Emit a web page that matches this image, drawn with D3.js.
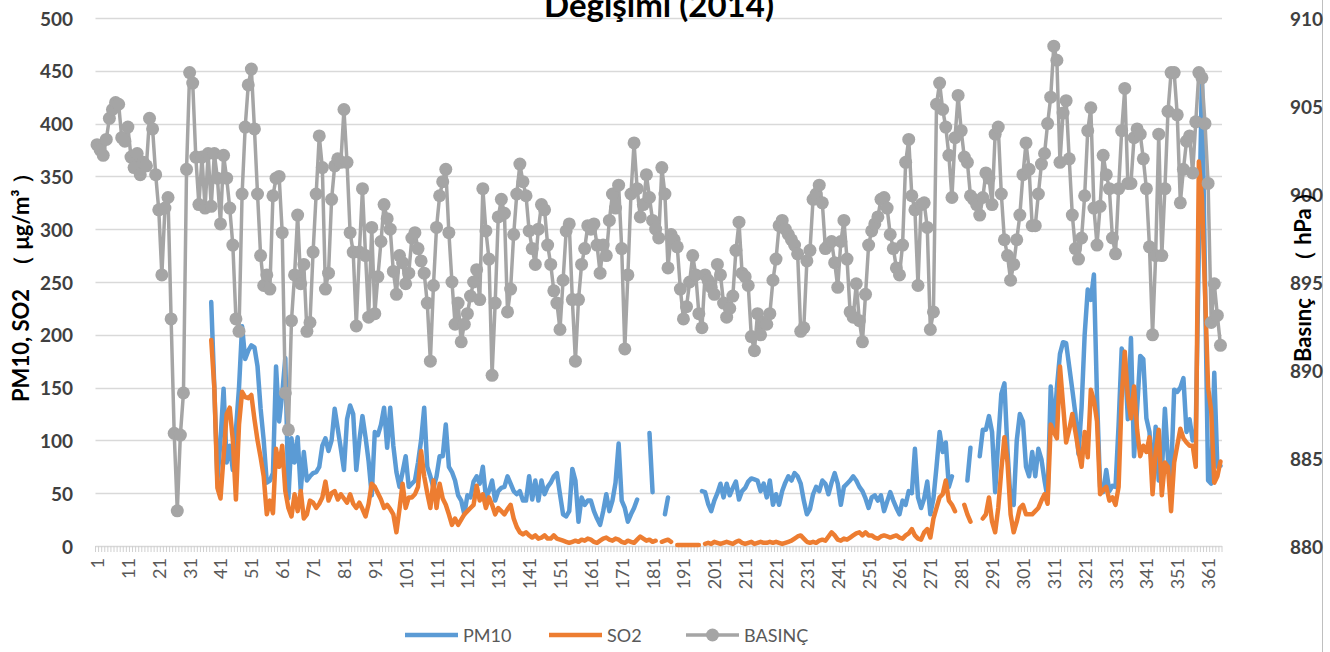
<!DOCTYPE html>
<html>
<head>
<meta charset="utf-8">
<script src="https://cdn.jsdelivr.net/npm/d3@7"></script>
<style>
  body { margin: 0; background: #ffffff; }
  svg { display: block; }
</style>
</head>
<body>
<svg id="chart" width="1330" height="652"></svg>
<script>
// Daily values for 2014 (day of year 1..365)
const days = d3.range(1, 366);

// PM10 (µg/m³), no measurements before day 38 and on a few outage days
const pm10 = [
  ...Array(37).fill(null),
  231, 150, 62, 100, 149, 79, 95, 72, 110, 150, 208, 177, 185, 190, 188, 170, 130, 100, 60, 62,
  69, 170, 118, 144, 178, 45,
  102, 79, 103, 52, 89, 62, 66, 69, 70, 75, 95, 102, 90, 100, 130, 111, 92, 72, 120, 133,
  125, 72, 100, 123, 103, 80, 48, 108, 105, 115, 131,
  93, 131, 95, 70, 56, 70, 85, 56, 59, 62, 79, 100, 131, 75, 66, 55, 66, 85, 85, 115,
  75, 70, 62, 48, 43, 30, 48, 46, 61, 66, 59,
  75, 46, 52, 62, 43, 52, 55, 56, 66, 59, 52, 49, 52, 43, 43, 66, 44, 62, 43, 62,
  49, 56, 60, 66, 69, 49, 30, 28, 33, 73, 62,
  23, 46, 39, 43, 43, 33, 26, 20, 33, 49, 33, 43, 60, 97, 43, 36, 23, 30, 36, 44,
  null, null, null, 107, 51, null, null, null, 30, 46,
  null, null, null, null, null, null, null, null, null, null,
  52, 51, 40, 33, 43, 50, 59, 46, 59, 48, 55, 61, 44, 52, 55, 61, 64, 63, 62, 52,
  59, 46, 62, 39, 49, 39, 52, 60, 66, 62, 69, 66, 59, 43, 30, 35, 49, 56, 52, 62,
  59, 49, 60, 69, 59, 39, 56, 59, 62, 66, 62, 56, 52,
  45, 36, 46, 48, 43, 48, 33, 42, 51, 43, 36, 30, 43, 39, 52, 50, 92, 46, 36, 45,
  61, 30, 45, 75, 108, 89, 98, 56, 66,
  null, null, null, null, 62, 93, null, null,
  85, 110, 110, 123, 108, 51, 100, 144, 154, 90, 43, 39, 100, 125, 118, 75, 66, 89, 66, 92,
  82, 62, 45, 151, 108, 150, 182, 193, 192, 170, 148, 125, 87, 131, 200, 243, 233, 257, 141, 56,
  51, 72, 52, 57, 56, 115, 187, 179, 120, 197, 85, 130, 180, 177, 121, 108, 62, 113, 62, 69,
  130, 82, 66, 148, 146, 150, 159, 108, 120, 100, 110, 280, 448, 250, 62, 59, 164, 75, 76
];

// SO2 (µg/m³)
const so2 = [
  ...Array(37).fill(null),
  195, 150, 55, 45, 85, 125, 131, 100, 44, 115, 146, 141, 140, 143, 120, 100, 84, 66, 30, 43,
  31, 92, 75, 95, 52, 36,
  28, 49, 33, 52, 26, 30, 43, 41, 36, 40, 46, 61, 43, 50, 52, 44, 49, 45, 41, 49,
  40, 36, 41, 35, 28, 40, 59, 56, 50, 44, 36,
  39, 35, 30, 13, 35, 59, 36, 46, 46, 49, 56, 90, 66, 50, 36, 62, 36, 59, 45, 39,
  30, 20, 26, 20, 25, 30, 33, 36, 39, 57, 43,
  49, 36, 46, 39, 30, 36, 33, 30, 35, 39, 26, 18, 13, 11, 13, 10, 8, 10, 7, 8,
  10, 7, 7, 10, 7, 6, 5, 4, 3, 4, 5,
  4, 6, 5, 7, 6, 4, 3, 5, 7, 8, 6, 5, 7, 6, 4, 3, 5, 4, 3, 6,
  9, 7, 5, 6, 4, 5,
  null, 4, 5, 6, 4, null, 1, 1, 1, 1, 1, 1, 1, 1, null,
  2, 3, 2, 4, 3, 2, 3, 4, 3, 2, 4, 5, 3, 2, 3, 4, 2, 3, 4, 3,
  3, 4, 3, 4, 3, 2, 3, 4, 5, 7, 9, 10, 7, 4, 3, 4, 3, 5, 6, 5,
  9, 13, 10, 6, 5, 7, 6, 8, 10, 12, 13, 10,
  13, 10, 10, 8, 7, 9, 10, 9, 8, 9, 10, 8, 7, 10, 12, 16, 10, 7, 6, 13,
  16, 8, 26, 36, 46, 49, 62, 43, 39, 33,
  null, null, 39, 30, 23, null, null, null,
  26, 30, 46, 23, 13, 36, 72, 103, 79, 30, 13, 23, 36, 39, 30, 30, 30, 33, 36, 43,
  49, 40, 115, 108,
  102, 170, 134, 98, 110, 125, 108, 90, 75, 108, 84, 148, 138, 118, 49, 53, 56, 43, 46, 39,
  56, 141, 184, 141, 121, 151, 110, 85, 95, 89, 103,
  49, 89, 110, 48, 79, 75, 33, 79, 95, 111, 102, 98, 95, 95, 75, 364, 330, 240, 150, 128,
  60, 66, 80
];

// Air pressure (hPa)
const basinc = [
  902.8, 902.5, 902.2, 903.1, 904.3, 904.8, 905.2, 905.1, 903.2, 903.0, 903.8, 902.1, 901.5, 902.3, 901.1, 901.8,
  901.6, 904.3, 903.7, 901.1, 899.1, 895.4, 899.2, 899.8, 892.9, 886.4, 882.0, 886.3, 888.7, 901.4, 906.9, 906.3,
  902.1, 899.4, 902.1, 899.2, 902.3, 899.3, 902.3, 900.9, 898.3, 902.2, 900.9, 899.2, 897.1, 892.9, 892.2, 900.0,
  903.8, 906.2, 907.1, 903.7, 900.0, 896.5, 894.8, 895.4, 894.6, 899.9, 900.9, 901.0, 897.8, 888.7, 886.6,
  892.8, 895.4, 898.8, 894.9, 896.0, 892.2, 892.7, 896.7, 900.0, 903.3, 901.5, 894.6, 895.5, 899.7, 901.6, 902.0,
  901.8, 904.8, 901.8, 897.8, 896.7, 892.5, 896.7, 900.3, 896.5, 893.0, 898.1, 893.2, 895.3, 897.3, 899.4,
  898.6, 898.0, 895.6, 894.3, 896.5, 896.1, 894.9, 895.5, 897.5, 897.8, 896.9, 896.2, 895.5, 893.8, 890.5,
  894.8, 898.1, 899.9, 900.7, 901.4, 897.8, 895.0, 892.6, 893.8, 891.6, 892.6, 893.2, 894.2, 895.0, 895.7,
  894.0, 900.3, 897.9, 896.3, 889.7, 893.8, 898.7, 899.7, 898.9, 893.3, 894.6, 897.7, 900.0, 901.7, 900.7, 899.9,
  897.9, 896.9, 896.0, 898.0, 899.4, 899.1, 897.1, 896.0, 894.5, 893.8, 892.3, 895.1, 897.9, 898.3, 894.0, 890.5,
  894.0, 896.0, 896.9, 898.2, 898.0, 898.3, 897.1, 895.5, 897.1, 896.5, 898.5, 900.0, 899.2, 900.5, 896.9,
  891.2, 895.4, 900.0, 902.9, 900.3, 898.7, 899.4, 901.1, 899.8, 898.5, 898.0, 897.5, 901.5, 900.0, 895.8,
  897.7, 897.4, 897.0, 894.6, 892.9, 893.6, 895.0, 896.5, 895.4, 893.2, 892.4, 895.4, 895.1, 894.7, 894.3, 896.0,
  895.4, 893.8, 893.0, 893.5, 894.2, 896.8, 898.4, 895.5, 895.3, 894.8, 891.9, 891.1, 893.2, 892.0, 892.7,
  892.6, 893.2, 895.1, 896.3, 898.2, 898.5, 898.0, 897.7, 897.4, 897.1, 896.6, 892.2, 892.4, 896.2, 896.8, 899.7,
  900.0, 900.5, 899.5, 896.9, 897.1, 897.3, 896.1, 894.7, 897.3, 898.5, 896.3, 893.3, 893.0, 894.9, 892.8, 891.6,
  894.3, 897.1, 897.9, 898.3, 898.7, 899.7, 899.8, 899.2, 897.7, 896.9, 895.8, 895.4, 897.1, 901.8, 903.1, 899.9,
  899.1, 894.8, 899.4, 899.5, 898.1, 892.3, 893.3, 905.1, 906.3, 904.8, 903.8, 902.2, 899.8, 903.2, 905.6,
  903.6, 902.1, 901.8, 899.9, 899.7, 899.4, 898.8, 899.8, 901.2, 900.9, 899.4, 903.4, 903.8, 900.0, 897.4, 896.5,
  895.1, 896.0, 897.4, 898.8, 901.1, 902.9, 901.4, 898.2, 898.2, 900.0, 901.7, 902.3, 904.0, 905.5, 908.4,
  907.6, 901.8, 904.6, 905.3, 902.0, 898.8, 896.9, 896.3, 897.5, 899.9, 903.6, 904.9, 899.2, 897.1, 899.3, 902.2,
  901.1, 900.3, 897.5, 896.6, 900.3, 903.6, 906.0, 900.6, 900.6, 903.2, 903.7, 903.4, 902.0, 900.3, 897.0,
  892.0, 896.5, 903.4, 896.5, 900.3, 904.7, 906.9, 906.9, 904.5, 899.5, 901.4, 903.0, 903.3, 901.2, 904.1, 906.9,
  906.6, 904.0, 900.6, 892.7, 894.9, 893.1, 891.4
];

const leftTicks = [0, 50, 100, 150, 200, 250, 300, 350, 400, 450, 500];
const rightTicks = [880, 885, 890, 895, 900, 905, 910];
const xTickLabels = days.filter((d, i) => i % 10 === 0);

const titleText = "Değişimi (2014)";
const leftTitleParts = ["PM10, SO2", "（ μg/m³ ）"];
const rightTitleParts = ["Basınç", "（ hPa ）"];
const legendItems = [
  { name: "PM10", color: "#5B9BD5", marker: false },
  { name: "SO2", color: "#ED7D31", marker: false },
  { name: "BASINÇ", color: "#A5A5A5", marker: true }
];

const FONT = "Lato, 'Noto Sans', 'DejaVu Sans', sans-serif";
const svg = d3.select("#chart");
const plot = { left: 95.5, right: 1222, top: 18, bottom: 546 };

const x = d3.scalePoint().domain(days).range([plot.left, plot.right]).padding(0.5);
const step = x.step();
const yL = d3.scaleLinear().domain([0, 500]).range([plot.bottom, plot.top]);
const yR = d3.scaleLinear().domain([880, 910]).range([plot.bottom, plot.top]);

// outer frame edge on the right
svg.append("line")
  .attr("x1", 1322.5).attr("x2", 1322.5).attr("y1", 0).attr("y2", 652)
  .attr("stroke", "#bfbfbf").attr("stroke-width", 1);

// horizontal gridlines
svg.append("g")
  .selectAll("line")
  .data(leftTicks)
  .join("line")
  .attr("x1", plot.left).attr("x2", plot.right)
  .attr("y1", d => Math.round(yL(d)) + 0.5).attr("y2", d => Math.round(yL(d)) + 0.5)
  .attr("stroke", "#d9d9d9").attr("stroke-width", 1.3);

// category tick marks between days
svg.append("g")
  .selectAll("line")
  .data(d3.range(days.length + 1))
  .join("line")
  .attr("x1", i => plot.left + i * step).attr("x2", i => plot.left + i * step)
  .attr("y1", plot.bottom).attr("y2", plot.bottom + 6)
  .attr("stroke", "#d0d0d0").attr("stroke-width", 1);

// left axis labels
svg.append("g")
  .selectAll("text")
  .data(leftTicks)
  .join("text")
  .attr("x", 73).attr("y", d => yL(d))
  .attr("text-anchor", "end").attr("dominant-baseline", "central")
  .attr("font-family", FONT).attr("font-weight", "bold").attr("font-size", 19)
  .attr("fill", "#404040")
  .text(d => d);

// right axis labels
svg.append("g")
  .selectAll("text")
  .data(rightTicks)
  .join("text")
  .attr("x", 1290).attr("y", d => yR(d))
  .attr("text-anchor", "start").attr("dominant-baseline", "central")
  .attr("font-family", FONT).attr("font-weight", "bold").attr("font-size", 19)
  .attr("fill", "#404040")
  .text(d => d);

// x axis labels (rotated)
svg.append("g")
  .selectAll("text")
  .data(xTickLabels)
  .join("text")
  .attr("transform", d => `translate(${x(d)},558) rotate(-90)`)
  .attr("text-anchor", "end").attr("dominant-baseline", "central")
  .attr("font-family", FONT).attr("font-size", 18)
  .attr("fill", "#595959")
  .text(d => d);

// axis titles, read bottom to top
function axisTitle(cx, startY, parts, gap) {
  const t = svg.append("text")
    .attr("transform", `translate(${cx},${startY}) rotate(-90)`)
    .attr("text-anchor", "start").attr("dominant-baseline", "central")
    .attr("font-family", FONT).attr("font-weight", "bold").attr("font-size", 22)
    .attr("fill", "#000");
  t.append("tspan").attr("x", 0).text(parts[0]);
  t.append("tspan").attr("dx", gap).text(parts[1]);
}
axisTitle(20, 402, leftTitleParts, 12);
axisTitle(1302, 362, rightTitleParts, 26);

// chart title (second line)
svg.append("text")
  .attr("x", 659).attr("y", 17)
  .attr("text-anchor", "middle")
  .attr("font-family", FONT).attr("font-weight", "bold").attr("font-size", 33)
  .attr("fill", "#000")
  .text(titleText);

// series lines
const lineL = d3.line().defined(d => d.v != null).x(d => x(d.day)).y(d => yL(d.v));
const lineR = d3.line().defined(d => d.v != null).x(d => x(d.day)).y(d => yR(d.v));
const asPoints = arr => days.map((day, i) => ({ day, v: arr[i] }));

svg.append("path")
  .datum(asPoints(pm10))
  .attr("d", lineL)
  .attr("fill", "none").attr("stroke", "#5B9BD5").attr("stroke-width", 4.5)
  .attr("stroke-linejoin", "round").attr("stroke-linecap", "round");

svg.append("path")
  .datum(asPoints(so2))
  .attr("d", lineL)
  .attr("fill", "none").attr("stroke", "#ED7D31").attr("stroke-width", 4.5)
  .attr("stroke-linejoin", "round").attr("stroke-linecap", "round");

const pressurePts = asPoints(basinc);
svg.append("path")
  .datum(pressurePts)
  .attr("d", lineR)
  .attr("fill", "none").attr("stroke", "#A5A5A5").attr("stroke-width", 3.5)
  .attr("stroke-linejoin", "round");

svg.append("g")
  .selectAll("circle")
  .data(pressurePts)
  .join("circle")
  .attr("cx", d => x(d.day)).attr("cy", d => yR(d.v))
  .attr("r", 6.5)
  .attr("fill", "#A5A5A5");

// legend
const legendX = [405, 549, 686];
const legend = svg.append("g");
legendItems.forEach((item, i) => {
  const lx = legendX[i];
  legend.append("line")
    .attr("x1", lx).attr("x2", lx + 53).attr("y1", 635).attr("y2", 635)
    .attr("stroke", item.color).attr("stroke-width", item.marker ? 3.5 : 4.5);
  if (item.marker) {
    legend.append("circle").attr("cx", lx + 26.5).attr("cy", 635).attr("r", 6.5).attr("fill", item.color);
  }
  legend.append("text")
    .attr("x", lx + 58).attr("y", 635)
    .attr("dominant-baseline", "central")
    .attr("font-family", FONT).attr("font-size", 18)
    .attr("fill", "#595959")
    .text(item.name);
});
</script>
</body>
</html>
